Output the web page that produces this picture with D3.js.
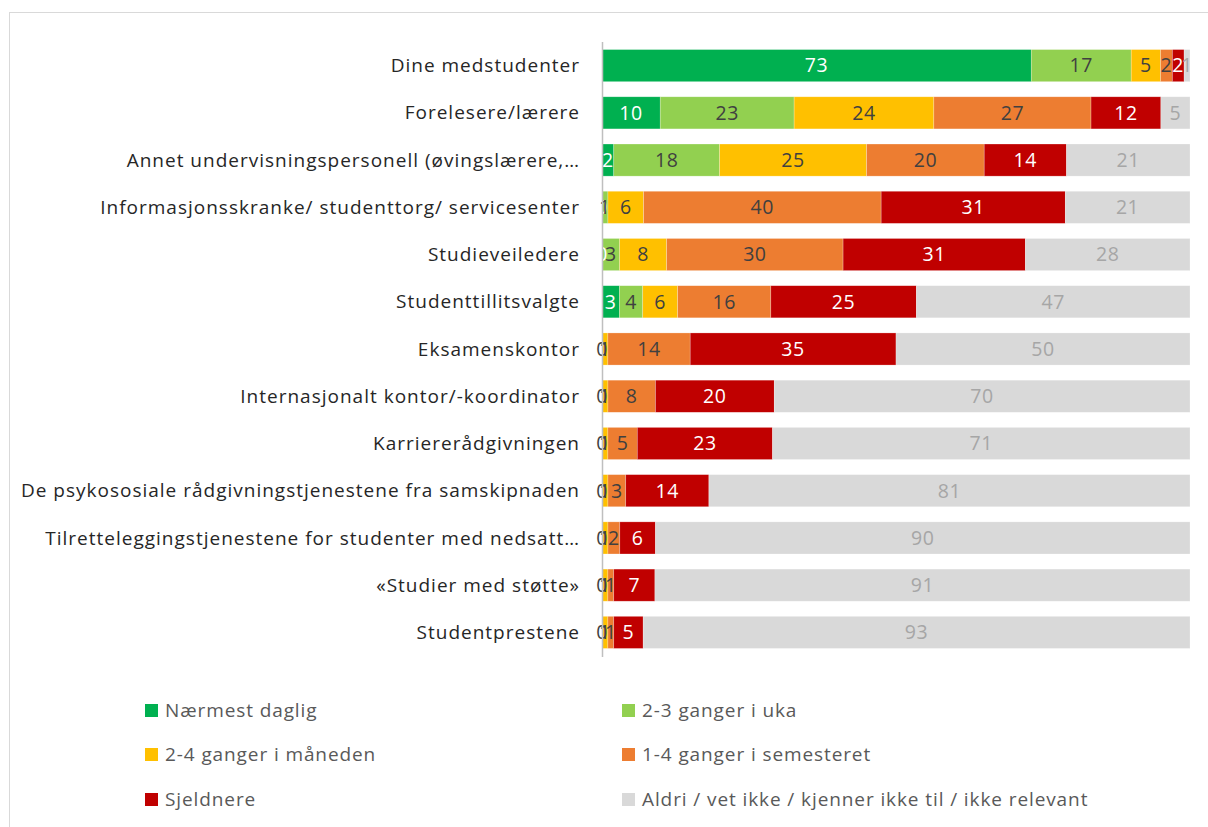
<!DOCTYPE html>
<html>
<head>
<meta charset="utf-8">
<style>
  body{margin:0;background:#fff;}
  text{font-family:"Open Sans","Noto Sans",sans-serif;}
</style>
</head>
<body>
<svg width="1208" height="827"></svg>
<script src="https://cdn.jsdelivr.net/npm/d3@7"></script>
<script>
var categories = [
  "Dine medstudenter",
  "Forelesere/lærere",
  "Annet undervisningspersonell (øvingslærere,…",
  "Informasjonsskranke/ studenttorg/ servicesenter",
  "Studieveiledere",
  "Studenttillitsvalgte",
  "Eksamenskontor",
  "Internasjonalt kontor/-koordinator",
  "Karriererådgivningen",
  "De psykososiale rådgivningstjenestene fra samskipnaden",
  "Tilretteleggingstjenestene for studenter med nedsatt…",
  "«Studier med støtte»",
  "Studentprestene"
];
var seriesNames = ["Nærmest daglig","2-3 ganger i uka","2-4 ganger i måneden",
  "1-4 ganger i semesteret","Sjeldnere","Aldri / vet ikke / kjenner ikke til / ikke relevant"];
var naermestDaglig = [73,10,2,0,0,3,0,0,0,0,0,0,0];
var ukentlig       = [17,23,18,1,3,4,0,0,0,0,0,0,0];
var maanedlig      = [5,24,25,6,8,6,1,1,1,1,1,1,1];
var semester       = [2,27,20,40,30,16,14,8,5,3,2,1,1];
var sjeldnere      = [2,12,14,31,31,25,35,20,23,14,6,7,5];
var aldri          = [1,5,21,21,28,47,50,70,71,81,90,91,93];
var series = [naermestDaglig, ukentlig, maanedlig, semester, sjeldnere, aldri];
var colors = ["#00B050","#92D050","#FFC000","#ED7D31","#C00000","#D9D9D9"];
var labelColors = ["#ffffff","#404040","#404040","#404040","#ffffff","#a6a6a6"];

var svg = d3.select("svg");

// chart frame
svg.append("rect").attr("x",9.5).attr("y",12.5).attr("width",1230).attr("height",850)
  .attr("fill","none").attr("stroke","#d9d9d9").attr("stroke-width",1);

var x = d3.scaleLinear().domain([0,1]).range([602,1190]);
var y = d3.scaleBand().domain(categories).range([42,656]).paddingInner(0.32).paddingOuter(0.16);

var rows = categories.map(function(c,i){
  var vals = series.map(function(s){return s[i];});
  var tot = d3.sum(vals), acc = 0;
  return vals.map(function(v,k){
    var seg = {cat:c, k:k, v:v, x0:acc/tot, x1:(acc+v)/tot};
    acc += v;
    return seg;
  });
});

var g = svg.append("g");
var rowG = g.selectAll("g.row").data(rows).enter().append("g").attr("class","row");

rowG.selectAll("rect").data(function(d){return d;}).enter().append("rect")
  .attr("x",function(d){return x(d.x0);})
  .attr("y",function(d){return y(d.cat);})
  .attr("width",function(d){return x(d.x1)-x(d.x0);})
  .attr("height",y.bandwidth())
  .attr("fill",function(d){return colors[d.k];})
  .attr("stroke","#ffffff").attr("stroke-opacity",0.4).attr("stroke-width",0.6);

rowG.selectAll("text").data(function(d){return d;}).enter().append("text")
  .attr("x",function(d){return (x(d.x0)+x(d.x1))/2;})
  .attr("y",function(d){return y(d.cat)+y.bandwidth()/2;})
  .attr("dy","0.35em")
  .attr("text-anchor","middle")
  .attr("font-size",19.5)
  .attr("letter-spacing",0.6)
  .attr("fill",function(d){return labelColors[d.k];})
  .text(function(d){return d.v;});

// category axis
svg.append("line").attr("x1",602.5).attr("x2",602.5).attr("y1",42).attr("y2",657)
  .attr("stroke","#bfbfbf").attr("stroke-width",1.5);

svg.append("g").selectAll("text").data(categories).enter().append("text")
  .attr("x",580)
  .attr("y",function(d){return y(d)+y.bandwidth()/2;})
  .attr("dy","0.35em")
  .attr("text-anchor","end")
  .attr("font-size",19)
  .attr("letter-spacing",1)
  .attr("fill","#262626")
  .text(function(d){return d;});

// legend
var legX = [145,622], legY = [710,754,799];
var leg = svg.append("g").selectAll("g").data(seriesNames).enter().append("g")
  .attr("transform",function(d,i){return "translate("+legX[i%2]+","+legY[Math.floor(i/2)]+")";});
leg.append("rect").attr("x",0).attr("y",-6).attr("width",13).attr("height",13)
  .attr("fill",function(d,i){return colors[i];});
leg.append("text").attr("x",20).attr("y",0).attr("dy","0.35em")
  .attr("font-size",19).attr("letter-spacing",0.9).attr("fill","#595959")
  .text(function(d){return d;});
</script>
</body>
</html>
